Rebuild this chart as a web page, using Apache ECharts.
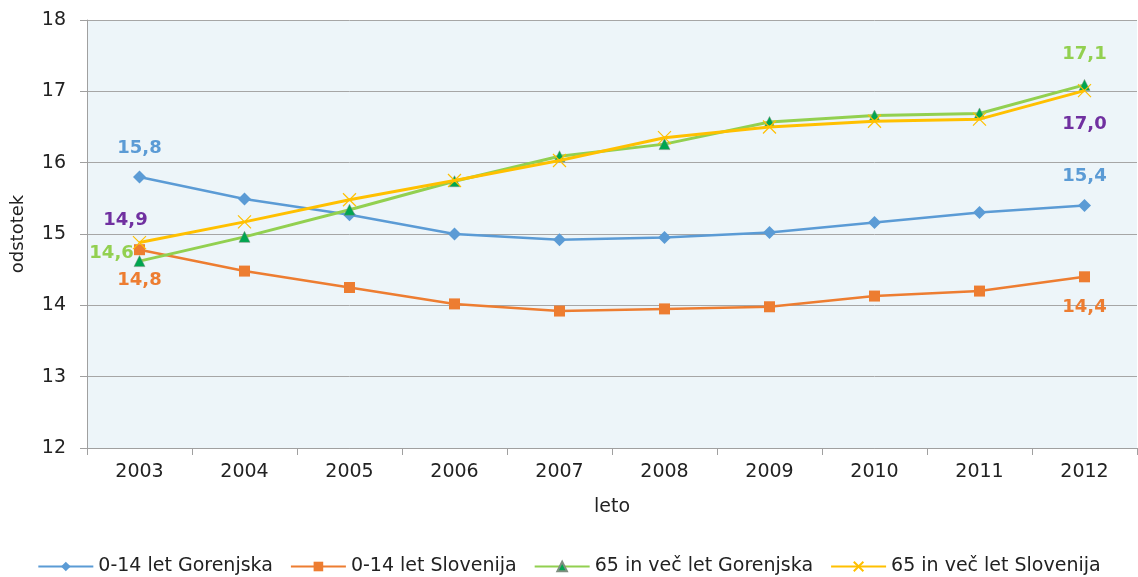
<!DOCTYPE html>
<html>
<head>
<meta charset="utf-8">
<script src="https://cdn.jsdelivr.net/npm/echarts@6/dist/echarts.min.js"></script>
<style>html,body{margin:0;padding:0;background:#fff}#c{width:1138px;height:577px}</style>
</head>
<body>
<div id="c"></div>
<script>
const years = ['2003','2004','2005','2006','2007','2008','2009','2010','2011','2012'];
const seriesNames = ['0-14 let Gorenjska','0-14 let Slovenija','65 in več let Gorenjska','65 in več let Slovenija'];
const gorenjska014 = [15.80, 15.49, 15.27, 15.00, 14.92, 14.95, 15.02, 15.16, 15.30, 15.40];
const slovenija014 = [14.78, 14.48, 14.25, 14.02, 13.92, 13.95, 13.98, 14.13, 14.20, 14.40];
const gorenjska65 = [14.62, 14.96, 15.34, 15.74, 16.09, 16.26, 16.57, 16.66, 16.69, 17.09];
const slovenija65 = [14.88, 15.17, 15.48, 15.75, 16.03, 16.35, 16.50, 16.58, 16.61, 17.01];

const FONT = 'DejaVu Sans';
const fmt = v => v.toFixed(1).replace('.', ',');

function withLabels(arr, firstLabel, lastLabel) {
  return arr.map((v, i) => {
    const base = { show: true, formatter: fmt(v), fontFamily: FONT, fontWeight: 'bold', fontSize: 18 };
    if (i === 0 && firstLabel) return { value: v, label: Object.assign(base, firstLabel) };
    if (i === arr.length - 1 && lastLabel) return { value: v, label: Object.assign(base, lastLabel) };
    return v;
  });
}

const chart = echarts.init(document.getElementById('c'), null, { renderer: 'canvas' });
chart.setOption({
  animation: false,
  textStyle: { fontFamily: FONT },
  grid: { left: 87, right: 1, top: 20, bottom: 129, show: true, backgroundColor: '#edf5f9', borderWidth: 0 },
  legend: {
    bottom: 1, left: 'center', itemWidth: 55, itemHeight: 12, itemGap: 17, padding: 0,
    textStyle: { fontFamily: FONT, fontSize: 19, color: '#222' },
    data: seriesNames
  },
  xAxis: {
    type: 'category', data: years, boundaryGap: true,
    name: 'leto', nameLocation: 'middle', nameGap: 50,
    nameTextStyle: { fontFamily: FONT, fontSize: 19, color: '#222' },
    axisLine: { lineStyle: { color: '#a0a0a0', width: 1 } },
    axisTick: { show: true, length: 7, lineStyle: { color: '#a0a0a0' } },
    axisLabel: { fontFamily: FONT, fontSize: 19, color: '#222', margin: 15 }
  },
  yAxis: {
    type: 'value', min: 12, max: 18, interval: 1,
    name: 'odstotek', nameLocation: 'middle', nameGap: 60, nameRotate: 90,
    nameTextStyle: { fontFamily: FONT, fontSize: 18, color: '#222' },
    axisLine: { show: true, lineStyle: { color: '#a0a0a0', width: 1 } },
    axisTick: { show: true, length: 7, lineStyle: { color: '#a0a0a0' } },
    axisLabel: { fontFamily: FONT, fontSize: 19, color: '#222', margin: 21 },
    splitLine: { lineStyle: { color: '#a6a6a6', width: 1 } }
  },
  series: [
    {
      name: seriesNames[0], type: 'line', z: 3,
      data: withLabels(gorenjska014, { position: 'top', distance: 13, color: '#5b9bd5' }, { position: 'top', distance: 14, color: '#5b9bd5' }),
      symbol: 'diamond', symbolSize: 13,
      lineStyle: { color: '#5b9bd5', width: 2.5 },
      itemStyle: { color: '#5b9bd5' }
    },
    {
      name: seriesNames[1], type: 'line', z: 3,
      data: withLabels(slovenija014, { position: 'bottom', distance: 16, color: '#ed7d31' }, { position: 'bottom', distance: 16, color: '#ed7d31' }),
      symbol: 'rect', symbolSize: 11,
      lineStyle: { color: '#ed7d31', width: 2.5 },
      itemStyle: { color: '#ed7d31' }
    },
    {
      name: seriesNames[2], type: 'line', z: 4,
      data: withLabels(gorenjska65, { position: 'left', distance: 0, offset: [0, -8], color: '#92d050' }, { position: 'top', distance: 16, color: '#92d050' }),
      symbol: 'triangle', symbolSize: 11,
      lineStyle: { color: '#92d050', width: 3 },
      itemStyle: { color: '#00a650', borderColor: '#7f8f7f', borderWidth: 0.5 }
    },
    {
      name: seriesNames[3], type: 'line', z: 5,
      data: withLabels(slovenija65, { position: 'top', distance: 6, offset: [-14, 0], color: '#7030a0' }, { position: 'bottom', distance: 18, color: '#7030a0' }),
      symbol: 'path://M0,0L10,10M10,0L0,10', symbolSize: 13,
      lineStyle: { color: '#ffc000', width: 3 },
      itemStyle: { color: 'rgba(0,0,0,0)', borderColor: '#ffc000', borderWidth: 1.2 }
    }
  ]
});
</script>
</body>
</html>
